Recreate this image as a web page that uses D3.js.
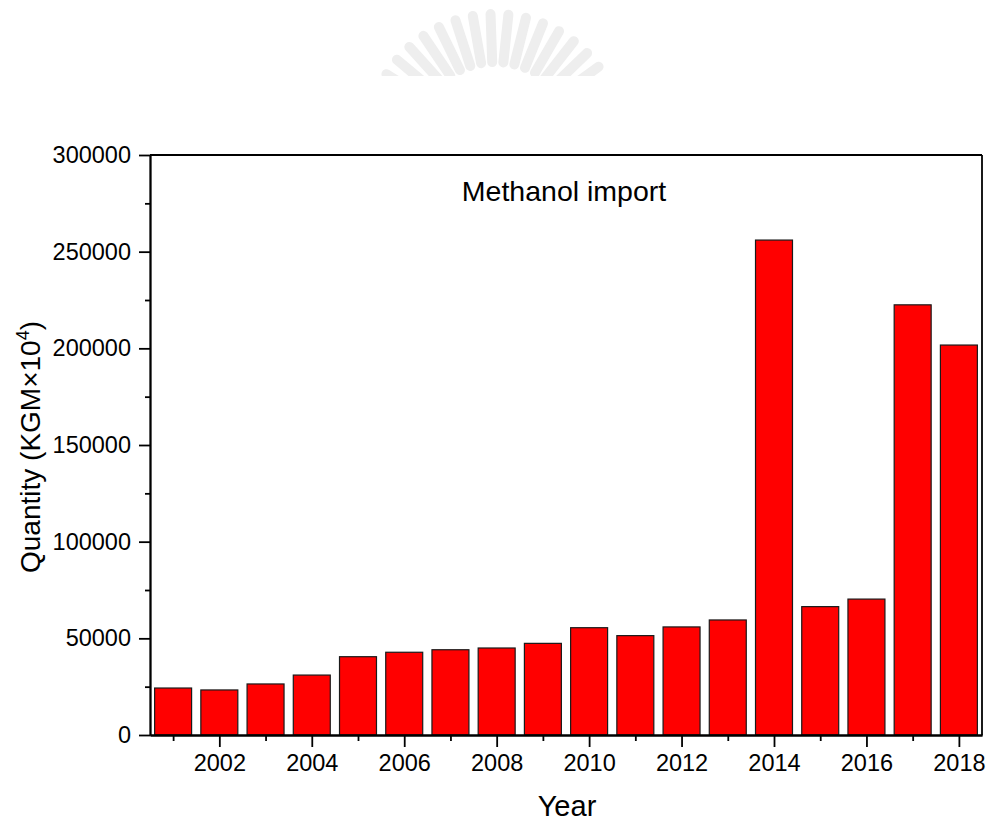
<!DOCTYPE html>
<html>
<head>
<meta charset="utf-8">
<script src="https://cdn.jsdelivr.net/npm/d3@7/dist/d3.min.js"></script>
<style>
  html, body { margin: 0; padding: 0; background: #fff; }
  svg { display: block; }
  text { font-family: "Liberation Sans", Arial, sans-serif; fill: #000; }
</style>
</head>
<body>
<svg id="chart" width="989" height="822"></svg>
<script>
// Annual methanol import quantity (KGM x 10^4)
const years = [2001, 2002, 2003, 2004, 2005, 2006, 2007, 2008, 2009,
               2010, 2011, 2012, 2013, 2014, 2015, 2016, 2017, 2018];
const quantity = [24300, 23300, 26400, 31000, 40500, 42800, 44100, 45000, 47400,
                  55500, 51400, 55900, 59500, 256000, 66400, 70300, 222500, 201700];
const yMajorTicks = [0, 50000, 100000, 150000, 200000, 250000, 300000];
const yMinorTicks = [25000, 75000, 125000, 175000, 225000, 275000];
const xMajorTicks = [2002, 2004, 2006, 2008, 2010, 2012, 2014, 2016, 2018];
const xMinorTicks = [2001, 2003, 2005, 2007, 2009, 2011, 2013, 2015, 2017];

const svg = d3.select("#chart");
const plotL = 150, plotR = 982, plotT = 155, plotB = 735;

const x = d3.scaleLinear().domain([2000.5, 2018.5]).range([plotL, plotR]);
const y = d3.scaleLinear().domain([0, 300000]).range([plotB, plotT]);

// faint emblem at the top of the page
const emblem = svg.append("g");
emblem.append("clipPath").attr("id", "emblemClip")
  .append("rect").attr("x", 0).attr("y", 0).attr("width", 989).attr("height", 76);
const rays = d3.range(-58, 59, 8);
emblem.append("g").attr("clip-path", "url(#emblemClip)")
  .selectAll("line").data(rays).join("line")
  .attr("x1", a => 495 + 80 * Math.sin(a * Math.PI / 180))
  .attr("y1", a => 142 - 80 * Math.cos(a * Math.PI / 180))
  .attr("x2", a => 495 + 128 * Math.sin(a * Math.PI / 180))
  .attr("y2", a => 142 - 128 * Math.cos(a * Math.PI / 180))
  .attr("stroke", "#eeeeee").attr("stroke-width", 10).attr("stroke-linecap", "round");

// bars
const barW = (x(2002) - x(2001)) * 0.8;
svg.append("g").selectAll("rect").data(years).join("rect")
  .attr("x", (d) => x(d) - barW / 2)
  .attr("y", (d, i) => y(quantity[i]))
  .attr("width", barW)
  .attr("height", (d, i) => y(0) - y(quantity[i]))
  .attr("fill", "#ff0000")
  .attr("stroke", "#1a1a1a")
  .attr("stroke-width", 1.2);

// frame top and right
svg.append("line").attr("x1", plotL).attr("x2", plotR).attr("y1", plotT).attr("y2", plotT)
  .attr("stroke", "#000").attr("stroke-width", 1.8);
svg.append("line").attr("x1", plotR).attr("x2", plotR).attr("y1", plotT).attr("y2", plotB)
  .attr("stroke", "#000").attr("stroke-width", 1.8);

function styleAxis(g) {
  g.select(".domain").attr("stroke", "#000").attr("stroke-width", 1.8);
  g.selectAll(".tick line").attr("stroke", "#000").attr("stroke-width", 1.8);
  g.selectAll(".tick text").attr("font-size", 23.5).attr("font-family", "Liberation Sans, Arial, sans-serif").attr("fill", "#000");
}

// y axis
svg.append("g").attr("transform", `translate(${plotL},0)`)
  .call(d3.axisLeft(y).tickValues(yMinorTicks).tickSize(5).tickSizeOuter(0).tickFormat(""))
  .call(styleAxis);
svg.append("g").attr("transform", `translate(${plotL},0)`)
  .call(d3.axisLeft(y).tickValues(yMajorTicks).tickSize(11).tickSizeOuter(0).tickPadding(8).tickFormat(d3.format("d")))
  .call(styleAxis);

// x axis
svg.append("g").attr("transform", `translate(0,${plotB})`)
  .call(d3.axisBottom(x).tickValues(xMinorTicks).tickSize(6).tickSizeOuter(0).tickFormat(""))
  .call(styleAxis);
svg.append("g").attr("transform", `translate(0,${plotB})`)
  .call(d3.axisBottom(x).tickValues(xMajorTicks).tickSize(12).tickSizeOuter(0).tickPadding(7).tickFormat(d3.format("d")))
  .call(styleAxis);

// title inside the plot
svg.append("text").attr("x", 564).attr("y", 201)
  .attr("text-anchor", "middle").attr("font-size", 28.5)
  .text("Methanol import");

// axis titles
svg.append("text").attr("x", 567).attr("y", 816)
  .attr("text-anchor", "middle").attr("font-size", 29)
  .text("Year");

const yl = svg.append("text")
  .attr("transform", "translate(40,447) rotate(-90)")
  .attr("text-anchor", "middle").attr("font-size", 28);
yl.append("tspan").text("Quantity (KGM\u00d710");
yl.append("tspan").attr("font-size", 18).attr("dy", -11).text("4");
yl.append("tspan").attr("dy", 11).text(")");
</script>
</body>
</html>
